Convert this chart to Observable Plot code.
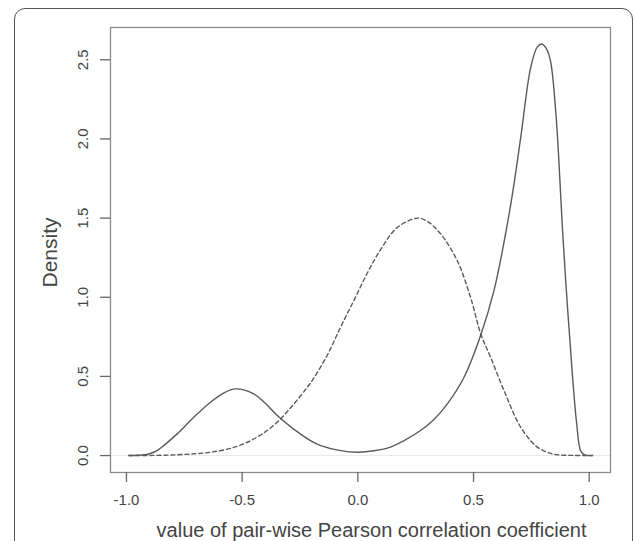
<!DOCTYPE html>
<html>
<head>
<meta charset="utf-8">
<script src="https://cdn.jsdelivr.net/npm/d3@7"></script>
<script src="https://cdn.jsdelivr.net/npm/@observablehq/plot@0.6"></script>
<style>
  html, body { margin: 0; padding: 0; background: #fff; overflow: hidden; }
  #wrap { position: relative; width: 636px; height: 541px; }
  #frame { position: absolute; left: 14px; top: 8px; width: 619px; height: 600px;
           border: 1.5px solid #555; border-radius: 11px; box-sizing: border-box; }
  #chart { position: absolute; left: 0; top: 0; }
</style>
</head>
<body>
<div id="wrap"><div id="frame"></div><div id="chart"></div></div>
<script>
// Solid curve
const solidX = [-0.99, -0.95, -0.904, -0.87, -0.839, -0.781, -0.709, -0.637, -0.58, -0.529, -0.45, -0.40, -0.342, -0.28, -0.205, -0.16, -0.08, 0.0, 0.07, 0.141, 0.20, 0.271, 0.33, 0.387, 0.459, 0.531, 0.588, 0.632, 0.668, 0.704, 0.747, 0.775, 0.795, 0.815, 0.833, 0.855, 0.869, 0.884, 0.906, 0.927, 0.946, 0.963, 0.98, 1.0, 1.014];
const solidY = [0, 0.002, 0.01, 0.03, 0.063, 0.137, 0.242, 0.337, 0.395, 0.421, 0.39, 0.33, 0.245, 0.17, 0.095, 0.063, 0.033, 0.021, 0.03, 0.053, 0.095, 0.158, 0.23, 0.327, 0.495, 0.76, 1.04, 1.35, 1.65, 2.01, 2.45, 2.58, 2.60, 2.57, 2.49, 2.18, 1.86, 1.44, 0.94, 0.516, 0.2, 0.03, 0.005, 0.0, 0];
// Dashed curve
const dashX = [-0.99, -0.88, -0.78, -0.70, -0.637, -0.56, -0.493, -0.42, -0.349, -0.28, -0.219, -0.19, -0.13, -0.075, -0.017, 0.04, 0.098, 0.17, 0.257, 0.30, 0.358, 0.43, 0.487, 0.531, 0.574, 0.632, 0.704, 0.776, 0.83, 0.862, 0.93, 1.014];
const dashY = [0, 0.001, 0.005, 0.012, 0.021, 0.042, 0.074, 0.13, 0.21, 0.32, 0.43, 0.49, 0.64, 0.81, 0.98, 1.15, 1.30, 1.44, 1.50, 1.48, 1.40, 1.23, 1.0, 0.77, 0.62, 0.41, 0.179, 0.053, 0.015, 0.005, 0.001, 0];

const xTicks = [-1.0, -0.5, 0.0, 0.5, 1.0];
const yTicks = [0.0, 0.5, 1.0, 1.5, 2.0, 2.5];
const xTitle = "value of pair-wise Pearson correlation coefficient";
const yTitle = "Density";

const solid = solidX.map((x, i) => ({x, y: solidY[i]}));
const dashed = dashX.map((x, i) => ({x, y: dashY[i]}));
const fmt = d => d.toFixed(1);
const font = "Liberation Sans, Arial, Helvetica, sans-serif";

const chart = Plot.plot({
  width: 636,
  height: 541,
  marginLeft: 110,
  marginRight: 26,
  marginTop: 27,
  marginBottom: 69,
  style: {fontFamily: font, background: "transparent"},
  x: {domain: [-1.069, 1.092], axis: null},
  y: {domain: [-0.107, 2.704], axis: null},
  marks: [
    Plot.ruleY([0], {stroke: "#e8e8e8", strokeWidth: 1}),
    Plot.frame({stroke: "#8a8a8a", strokeWidth: 1.3}),
    Plot.axisX({ticks: xTicks, tickSize: 10, tickFormat: () => "", label: null, stroke: "#666", strokeWidth: 1.3}),
    Plot.axisY({ticks: yTicks, tickSize: 10, tickFormat: () => "", label: null, stroke: "#666", strokeWidth: 1.3}),
    Plot.text(xTicks, {x: d => d, frameAnchor: "bottom", dy: 28, text: fmt, fontSize: 15, fill: "#444", lineAnchor: "middle"}),
    Plot.text(yTicks, {y: d => d, frameAnchor: "left", dx: -27, text: fmt, fontSize: 15, fill: "#444", rotate: -90, lineAnchor: "middle", textAnchor: "middle"}),
    Plot.text([xTitle], {frameAnchor: "bottom", dx: 11, dy: 58, fontSize: 20, fill: "#444", lineAnchor: "middle"}),
    Plot.text([yTitle], {frameAnchor: "left", dx: -60, dy: 2.5, fontSize: 21, fill: "#444", rotate: -90, lineAnchor: "middle", textAnchor: "middle"}),
    Plot.line(dashed, {x: "x", y: "y", stroke: "#5a5a5a", strokeWidth: 1.4, strokeDasharray: "4,3", curve: "catmull-rom"}),
    Plot.line(solid, {x: "x", y: "y", stroke: "#5a5a5a", strokeWidth: 1.4, curve: "catmull-rom"})
  ]
});
document.getElementById("chart").appendChild(chart);
</script>
</body>
</html>
